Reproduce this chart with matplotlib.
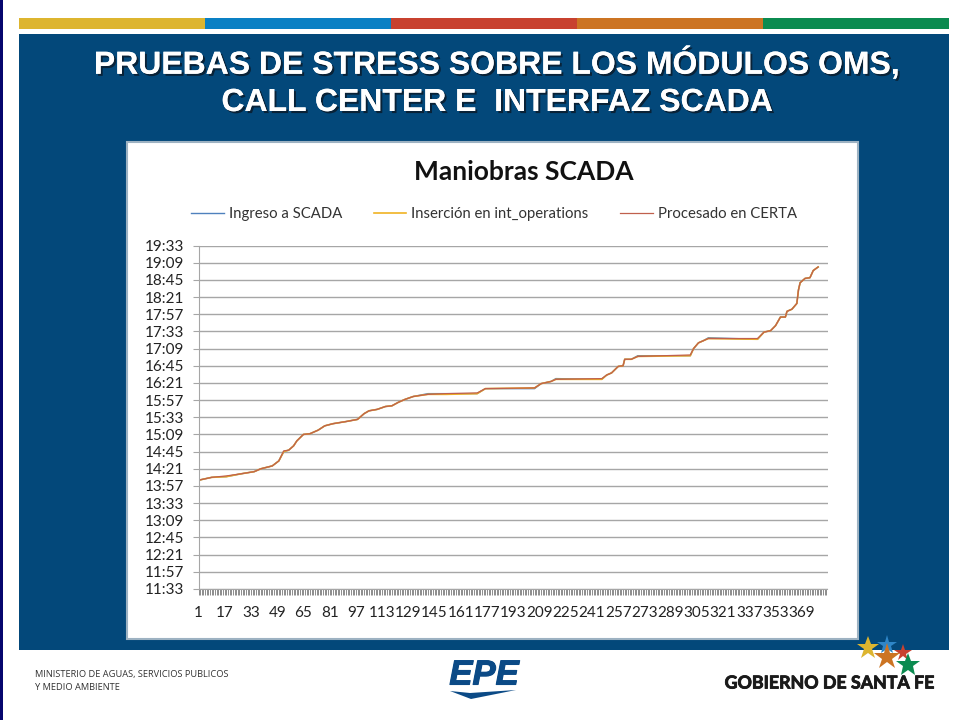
import matplotlib
matplotlib.use('Agg')
import matplotlib.pyplot as plt
import matplotlib.patheffects as pe
from matplotlib.patches import Rectangle, Polygon

# datos: numero de maniobra y hora en minutos desde las 00:00
maniobra = [1, 9, 18, 27, 35, 39, 46, 50, 53, 56, 59, 61, 65, 69, 74, 78, 83, 91, 98, 102,
            105, 110, 115, 119, 123, 127, 132, 141, 152, 171, 176, 206, 210, 216, 219, 247,
            250, 253, 257, 260, 261, 265, 269, 301, 303, 306, 309, 312, 342, 346, 350, 353,
            356, 359, 360, 363, 366, 367, 368, 371, 374, 376, 379]
procesado = [845, 849, 851, 854, 857, 861, 865, 872, 886, 887, 893, 900, 909, 910, 915, 921,
             924, 927, 930, 938, 942, 944, 948, 949, 954, 958, 962, 965, 966, 967, 973, 974,
             980, 983, 986, 987, 992, 995, 1004, 1005, 1014, 1014, 1018, 1020, 1029, 1037,
             1040, 1043, 1043, 1052, 1054, 1061, 1073, 1073, 1081, 1084, 1092, 1111, 1121,
             1127, 1128, 1138, 1143]
insercion = [845, 849, 850, 854, 857, 861, 865, 872, 885, 887, 893, 900, 909, 910, 915, 921,
             924, 927, 930, 938, 942, 944, 948, 949, 954, 958, 962, 965, 965, 966, 973, 974,
             980, 983, 986, 986, 992, 995, 1004, 1005, 1014, 1014, 1018, 1019, 1029, 1037,
             1040, 1043, 1042, 1052, 1054, 1061, 1073, 1073, 1081, 1084, 1092, 1111, 1121,
             1127, 1128, 1138, 1143]
ingreso = [845, 849, 850, 854, 857, 861, 865, 872, 885, 887, 893, 900, 909, 910, 915, 921,
           924, 927, 930, 938, 942, 944, 948, 949, 954, 958, 962, 966, 966, 966, 973, 973,
           980, 983, 987, 986, 992, 995, 1004, 1005, 1014, 1014, 1019, 1019, 1029, 1037,
           1040, 1044, 1042, 1052, 1054, 1061, 1073, 1073, 1081, 1084, 1092, 1111, 1121,
           1127, 1128, 1138, 1143]

horas = ['11:33', '11:57', '12:21', '12:45', '13:09', '13:33', '13:57', '14:21', '14:45',
         '15:09', '15:33', '15:57', '16:21', '16:45', '17:09', '17:33', '17:57', '18:21',
         '18:45', '19:09', '19:33']
horas_min = [693, 717, 741, 765, 789, 813, 837, 861, 885, 909, 933, 957, 981, 1005, 1029,
             1053, 1077, 1101, 1125, 1149, 1173]
etiquetas_x = [1, 17, 33, 49, 65, 81, 97, 113, 129, 145, 161, 177, 193, 209, 225, 241, 257,
               273, 289, 305, 321, 337, 353, 369]

titulo = ['PRUEBAS DE STRESS SOBRE LOS MÓDULOS OMS,', 'CALL CENTER E  INTERFAZ SCADA']
franjas = ['#DDB52F', '#0A80C4', '#C8412F', '#CC7423', '#0B8B50']
azul = '#03487A'
sans = ['Lato', 'DejaVu Sans']

W, H = 960, 720
fig = plt.figure(figsize=(9.6, 7.2), dpi=100, facecolor='white')

# fondo de la diapositiva, en pixeles
bg = fig.add_axes([0, 0, 1, 1])
bg.set_xlim(0, W)
bg.set_ylim(H, 0)
bg.axis('off')

bg.add_patch(Rectangle((0, 0), 3, H, color='#06066E', lw=0))
for i, c in enumerate(franjas):
    bg.add_patch(Rectangle((19 + i * 186, 17.5), 186, 11.5, color=c, lw=0))
bg.add_patch(Rectangle((19, 34), 930, 616, color=azul, lw=0))
bg.add_patch(Rectangle((126.5, 141.5), 731, 497.5, facecolor='white', edgecolor='#9DB2C2', lw=1.5))

for txt, yy in zip(titulo, [64, 103]):
    bg.text(497.5, yy, txt, color='white', fontsize=23, fontweight='bold', family='Liberation Sans',
            ha='center', va='center',
            path_effects=[pe.withSimplePatchShadow(offset=(1.5, -1.5), shadow_rgbFace='#0A1E30', alpha=0.9),
                          pe.Normal()])

bg.text(524, 172, 'Maniobras SCADA', fontsize=19, fontweight='bold', family=sans, color='#111111',
        ha='center', va='center')

# pie con logos
bg.text(35, 675, 'MINISTERIO DE AGUAS, SERVICIOS PUBLICOS', fontsize=6.7, family='Open Sans',
        color='#333333', va='center')
bg.text(35, 687, 'Y MEDIO AMBIENTE', fontsize=6.7, family='Open Sans', color='#333333', va='center')
for sx, sy, c, ms in [(868, 648, '#DDB52F', 17), (887, 645, '#2E86C8', 14.5), (903, 653, '#C8412F', 13),
                      (887, 657, '#CC7423', 20), (908, 665, '#0B8B50', 18)]:
    bg.plot(sx, sy, marker='*', color=c, ms=ms, mew=0, clip_on=False)
bg.text(829, 683, 'GOBIERNO DE SANTA FE', fontsize=12.8, fontweight='bold', family='Lato',
        color='#1A1A1A', ha='center', va='center',
        path_effects=[pe.withStroke(linewidth=0.6, foreground='#1A1A1A')])
bg.text(484, 675, 'EPE', fontsize=25, fontweight='bold', style='italic', family='Liberation Sans',
        color='#0B4A86', ha='center', va='center',
        path_effects=[pe.withStroke(linewidth=0.8, foreground='#0B4A86')])
bg.add_patch(Polygon([[450, 691], [470, 693], [516, 690], [471, 699]], color='#0B4A86', lw=0))

# grafico
ax = fig.add_axes([198.5 / W, 1 - 589 / H, 629 / W, 343.5 / H])
ax.patch.set_alpha(0)
ax.plot(maniobra, ingreso, color='#4F81BD', lw=1.0, label='Ingreso a SCADA')
ax.plot(maniobra, insercion, color='#F0B323', lw=1.2, label='Inserción en int_operations')
ax.plot(maniobra, procesado, color='#C0604D', lw=0.9, label='Procesado en CERTA')

ax.set_xlim(1, 384.7)
ax.set_ylim(693, 1173)
ax.set_yticks(horas_min)
ax.set_yticklabels(horas)
ax.set_xticks(etiquetas_x)
ax.set_xticklabels(etiquetas_x)
ax.set_xticks(range(1, 385), minor=True)
ax.grid(axis='y', color='#A6A6A6', lw=1)
ax.set_axisbelow(True)
for s in ['top', 'right']:
    ax.spines[s].set_visible(False)
for s in ['left', 'bottom']:
    ax.spines[s].set_color('#A6A6A6')
ax.tick_params(axis='y', length=4.3, color='#A6A6A6', labelsize=11, pad=6, labelcolor='#222222')
ax.tick_params(axis='x', which='major', length=4.3, color='#8C8C8C', width=0.7, labelsize=11, pad=8,
               labelcolor='#222222')
ax.tick_params(axis='x', which='minor', length=4.3, color='#8C8C8C', width=0.7)
for lab in ax.get_xticklabels() + ax.get_yticklabels():
    lab.set_family(sans)

ax.legend(loc='center', bbox_to_anchor=(494 / W, 1 - 214.5 / H), bbox_transform=fig.transFigure, ncol=3,
          frameon=False, prop={'family': sans, 'size': 10.7}, handlelength=2.2, handletextpad=0.35,
          columnspacing=2.1, labelcolor='#333333')

fig.savefig('out.png', dpi=100)
